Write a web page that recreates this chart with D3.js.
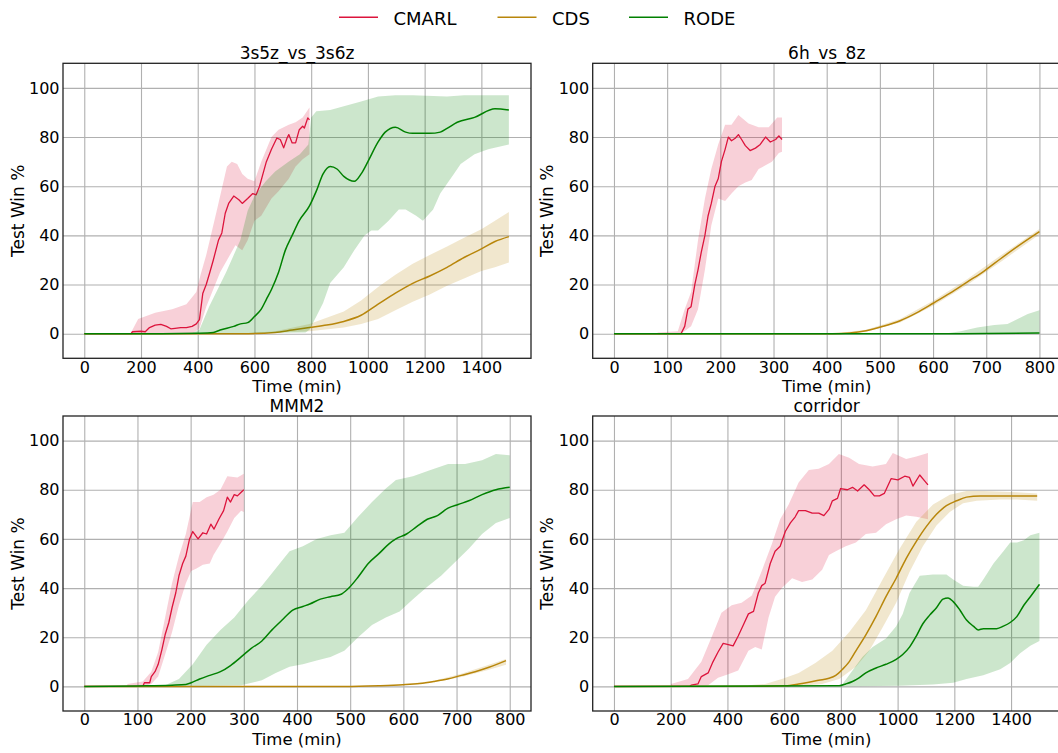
<!DOCTYPE html>
<html>
<head>
<meta charset="utf-8">
<script src="https://d3js.org/d3.v7.min.js"></script>
<style>
body { margin: 0; background: #fff; }
text { font-family: "DejaVu Sans", sans-serif; }
</style>
</head>
<body>
<svg id="chart" width="1058" height="753"></svg>
<script>
// series names and colours
var seriesNames = ["CMARL", "CDS", "RODE"];
var seriesColors = ["#dc143c", "#b8860b", "#008000"];
var panelTitles = ["3s5z_vs_3s6z", "6h_vs_8z", "MMM2", "corridor"];
var panelXMax = [1500, 800, 800, 1500];
var panelXStep = [200, 100, 100, 200];
var yTickValues = [0, 20, 40, 60, 80, 100];

// ---- 3s5z_vs_3s6z ----  [time, value]
var a_cmarl = [[0,0],[165,0],[170,0.8],[200,1],[215,0.8],[230,2.5],[250,3.5],[270,3.8],[290,3],[305,2],[320,2.2],[340,2.5],[360,2.5],[380,3],[395,4],[406,5.7],[418,16.5],[430,20],[442,24.7],[455,30],[473,38],[485,41],[497,49],[509,53],[527,56],[545,54.5],[557,53],[576,55],[594,57],[606,56.5],[618,60],[630,65],[642,70],[660,75],[679,79.6],[691,79],[703,75.6],[715,79.6],[721,81],[733,77.6],[745,77.6],[758,83],[770,84.4],[776,83.7],[788,87.8],[794,87]];
var a_cmarl_hi = [[165,0.5],[190,6],[250,8.5],[310,10],[360,12],[395,17],[410,24],[430,32],[467,50],[503,68],[520,70],[539,69],[557,65],[576,63],[600,62],[624,70],[660,80],[685,83],[721,85],[745,86],[770,88],[794,92]];
var a_cmarl_lo = [[165,0],[380,0],[406,2],[430,11],[479,25],[533,36],[557,34],[576,38],[600,46],[624,48],[660,55],[685,58],[721,63],[745,68],[770,71],[794,73]];
var a_cds = [[0,0],[550,0],[673,0.5],[733,1.5],[794,2.5],[855,3.5],[915,5],[976,7.5],[1036,12],[1097,16.5],[1158,20.5],[1218,23.5],[1279,27],[1339,31],[1400,34.5],[1448,37.5],[1497,39.5]];
var a_cds_hi = [[550,0],[673,1],[794,4],[915,9],[976,13.5],[1036,19],[1097,24],[1158,28.5],[1218,32],[1279,35.5],[1339,39],[1400,42.5],[1448,46],[1497,49.5]];
var a_cds_lo = [[550,0],[794,1],[915,2.5],[976,4],[1036,6],[1097,9.5],[1158,13],[1218,16],[1279,19.5],[1339,22.5],[1400,25.5],[1448,27],[1497,29]];
var a_rode = [[0,0],[273,0],[400,0.2],[455,0.5],[479,1.5],[527,3],[551,4],[576,4.5],[600,7],[624,10],[642,14],[660,18],[685,25],[709,34],[733,40],[758,46],[794,52],[818,58],[842,65],[867,68],[891,67],[915,64],[952,62],[976,65],[1000,70],[1036,78],[1061,82],[1097,84],[1133,82],[1158,81.5],[1218,81.5],[1255,82],[1279,83.5],[1315,86],[1376,88],[1448,91.5],[1497,91]];
var a_rode_hi = [[376,0],[406,1.6],[440,11],[470,18],[500,25],[527,32],[550,38],[576,50],[600,56],[640,62],[673,66],[720,70],[760,73],[790,77],[800,88],[818,90.5],[867,91],[915,92.5],[976,94.5],[1036,96.5],[1097,97],[1158,97],[1279,96.5],[1339,97],[1497,97]];
var a_rode_lo = [[376,0],[780,0.5],[794,1.6],[818,7],[842,12.5],[867,20.6],[915,27],[952,34],[988,40],[1012,42],[1036,42],[1073,46],[1109,50.5],[1133,50.5],[1170,48],[1194,46],[1230,50.5],[1255,57],[1279,61],[1303,65],[1327,69],[1376,73],[1424,75],[1497,77]];

// ---- 6h_vs_8z ----
var b_cmarl = [[0,0],[126,0],[133,3],[139,10],[145,11],[152,20],[158,26],[164,33],[171,40],[177,48],[183,53],[190,60],[196,63],[202,70],[209,75],[215,80],[221,78.5],[228,79.5],[234,81],[240,79],[247,76.5],[256,74.5],[266,75.5],[275,77],[285,80],[294,78],[304,79],[310,80.5],[316,79]];
var b_cmarl_hi = [[82,0.5],[120,1],[133,10],[145,17],[158,38],[171,55],[183,67],[196,77],[209,85],[221,85],[234,89],[253,85.5],[272,84],[291,84],[307,88],[316,88]];
var b_cmarl_lo = [[82,0],[126,0],[145,3],[158,10],[171,26],[183,44],[196,55],[209,54],[221,57],[234,60],[247,61.5],[259,62.5],[272,67],[285,68.5],[297,70],[310,73.5],[316,74]];
var b_cds = [[0,0],[411,0],[443,0.3],[474,1.2],[506,3],[538,5.3],[569,8.5],[601,12.5],[632,16.5],[664,21],[696,25.5],[727,30.5],[759,35.5],[800,41.5]];
var b_cds_hi = [[411,0],[474,1.6],[538,6],[601,13.5],[664,22.2],[727,31.8],[800,42.6]];
var b_cds_lo = [[411,0],[474,0.8],[538,4.6],[601,11.5],[664,19.8],[727,29.2],[800,40.4]];
var b_rode = [[0,0],[620,0],[700,0.1],[800,0.3]];
var b_rode_hi = [[0,0],[620,0],[652,1],[683,2.5],[715,3.5],[740,4],[759,6],[778,8],[800,9.5]];
var b_rode_lo = [[0,0],[800,0]];

// ---- MMM2 ----
var c_cmarl = [[0,0],[110,0],[113,1.5],[123,1.5],[126,4],[133,6],[139,9],[146,15],[152,21],[159,26],[165,32],[172,38],[178,45],[185,50],[191,53],[198,60],[204,63],[214,60],[223,62.5],[230,62],[238,66],[244,64],[253,68],[262,71.5],[269,77],[275,75],[282,78],[288,77.5],[295,79],[300,80]];
var c_cmarl_hi = [[81,1],[110,2],[126,6],[139,14],[152,28],[165,42],[178,53],[191,62],[204,75],[217,75],[230,77],[243,78],[256,80],[269,85.5],[288,85],[300,86.5]];
var c_cmarl_lo = [[81,0],[110,0],[126,1],[139,4],[152,13],[165,22],[178,33],[191,42],[201,47],[211,48],[223,49.5],[236,50],[243,53.5],[256,58],[269,63],[282,68.5],[295,71.5],[300,71]];
var c_cds = [[0,0],[489,0],[554,0.3],[599,0.7],[631,1.2],[657,2],[683,3],[709,4.5],[735,6],[761,7.8],[793,10.5]];
var c_cds_hi = [[489,0],[599,0.8],[657,2.3],[709,5.2],[761,8.8],[793,11.2]];
var c_cds_lo = [[489,0],[599,0.6],[657,1.7],[709,3.8],[761,6.8],[793,8.8]];
var c_rode = [[0,0],[100,0.2],[165,0.5],[191,0.8],[201,1.5],[217,3],[236,4.5],[256,6],[275,8.5],[295,12],[314,15.5],[334,18.5],[353,23],[372,27],[392,31],[411,32.5],[424,33.5],[444,35.5],[463,36.5],[483,37.5],[495,39.5],[515,44.5],[534,50],[554,54],[573,58],[586,60],[606,62],[625,65],[645,68],[664,69.5],[684,72.5],[703,74],[723,75.5],[748,78],[774,80],[800,81]];
var c_rode_hi = [[100,0],[152,0.5],[178,3],[204,9],[230,17],[256,23],[282,28],[308,35],[334,41],[360,48],[386,55],[411,57],[437,60],[463,61.5],[489,62.5],[515,69],[541,75],[567,80.5],[586,84],[618,85.5],[651,88],[684,90.5],[716,90.5],[748,92],[774,94.5],[800,94]];
var c_rode_lo = [[100,0],[295,0.5],[334,2.5],[360,5.5],[386,8],[411,9],[437,10.5],[463,12],[489,14.5],[515,20],[541,25],[567,28],[593,30.5],[618,35.5],[645,40.5],[671,45],[697,50.5],[723,56],[748,62],[774,66.5],[800,68.5]];

// ---- corridor ----
var d_cmarl = [[0,0],[266,0],[272,0.5],[296,1],[308,4],[332,5.5],[349,10],[367,14],[385,17.5],[403,17],[420,16.5],[438,20.5],[456,25],[474,29.5],[492,30.5],[509,38],[521,41],[533,42],[551,50],[568,55],[586,57],[604,63],[622,66.5],[639,69],[651,71.5],[675,71.5],[699,70.5],[722,70.5],[740,69.5],[758,72],[770,75.5],[788,76.5],[799,80.5],[823,80],[841,81],[859,79.5],[882,82],[900,80],[918,77.5],[936,77.5],[953,78.5],[977,84.5],[1001,84],[1025,85.5],[1042,85],[1054,81.5],[1078,86],[1096,83.5],[1107,82]];
var d_cmarl_hi = [[201,1],[261,3],[308,10],[344,20],[379,30],[415,33],[450,34],[486,37],[521,47],[557,58],[586,68],[616,74],[651,83],[687,88],[722,88.5],[758,90.5],[793,94.5],[829,93],[864,90.5],[912,89.5],[959,90.5],[983,95],[1030,92.5],[1066,93.5],[1107,95]];
var d_cmarl_lo = [[201,0],[272,0],[332,0.5],[367,3.5],[403,5],[438,6.5],[474,14.5],[498,16],[521,15],[545,28],[568,36.5],[592,40],[628,44],[663,42.5],[699,43.5],[734,47.5],[758,53.5],[782,55],[817,57],[853,58.5],[888,62],[924,62.5],[959,66],[995,68],[1030,69.5],[1066,69],[1107,68]];
var d_cds = [[0,0],[533,0.1],[604,0.3],[651,1],[687,1.7],[722,2.5],[758,3.3],[782,4.5],[806,7],[829,10],[853,14.5],[888,21],[924,28.5],[959,36.5],[995,44],[1030,52],[1066,59],[1101,65],[1137,70],[1172,73.5],[1208,75.5],[1243,77],[1291,77.5],[1362,77.5],[1421,77.5],[1492,77.5]];
var d_cds_hi = [[474,0.5],[533,1],[592,3],[651,5.5],[710,9.5],[770,14.5],[829,22],[888,31],[947,43.5],[1007,56],[1066,67],[1125,74],[1184,78],[1243,79.5],[1303,79.5],[1421,79],[1492,78.5]];
var d_cds_lo = [[474,0],[651,0.2],[734,1],[794,3],[853,8],[900,14.5],[947,24],[995,34],[1042,46.5],[1089,57],[1137,65.5],[1184,71],[1231,74.5],[1279,75.5],[1362,76],[1421,76],[1492,75.5]];
var d_rode = [[0,0],[794,0.3],[817,1],[841,2],[864,3.5],[888,5.5],[924,7.5],[959,9],[995,11],[1018,13],[1042,16],[1066,20.5],[1089,25.5],[1113,29],[1137,32],[1160,35.5],[1178,36],[1196,34.5],[1220,31],[1243,27],[1267,24.5],[1284,23],[1302,23.5],[1326,23.5],[1349,23.5],[1373,24.5],[1397,26],[1421,28.5],[1445,33],[1468,36.5],[1500,41.5]];
var d_rode_hi = [[794,0],[806,1],[841,6.5],[876,12],[912,16],[959,19.5],[995,24.5],[1018,29.5],[1042,38],[1078,45],[1125,45.5],[1172,45.5],[1196,43.5],[1231,41],[1267,40.5],[1284,40.5],[1302,43.5],[1338,50],[1373,55],[1397,58.5],[1421,58.5],[1445,59.5],[1468,61.5],[1500,62.5]];
var d_rode_lo = [[794,0],[1007,0.3],[1125,0.8],[1196,1.5],[1243,3],[1302,4.5],[1362,7],[1397,9.5],[1432,13.5],[1468,16.5],[1500,18.5]];

var panelData = [
	[[a_cmarl, a_cmarl_lo, a_cmarl_hi], [a_cds, a_cds_lo, a_cds_hi], [a_rode, a_rode_lo, a_rode_hi]],
	[[b_cmarl, b_cmarl_lo, b_cmarl_hi], [b_cds, b_cds_lo, b_cds_hi], [b_rode, b_rode_lo, b_rode_hi]],
	[[c_cmarl, c_cmarl_lo, c_cmarl_hi], [c_cds, c_cds_lo, c_cds_hi], [c_rode, c_rode_lo, c_rode_hi]],
	[[d_cmarl, d_cmarl_lo, d_cmarl_hi], [d_cds, d_cds_lo, d_cds_hi], [d_rode, d_rode_lo, d_rode_hi]]
];

(function()
{
	var svg = d3.select("#chart");
	var W = 468, H = 295;
	var lefts = [63, 592.7, 63, 592.7];
	var tops = [63.3, 63.3, 416, 416];

	svg.append("rect").attr("width", 1058).attr("height", 753).attr("fill", "#fff");

	for (var i = 0; i < 4; i++) drawPanel(i);
	drawLegend();

	function drawPanel(i)
	{
		var left = lefts[i], top = tops[i], xmax = panelXMax[i];
		var x = d3.scaleLinear().domain([-0.05 * xmax, 1.05 * xmax]).range([left, left + W]);
		var y = d3.scaleLinear().domain([-10, 110]).range([top + H, top]);
		var g = svg.append("g");

		var clipId = "clip" + i;
		g.append("clipPath").attr("id", clipId).append("rect")
			.attr("x", left).attr("y", top).attr("width", W).attr("height", H);

		// axes, with the ticks stretched across as grid lines
		var xAxis = d3.axisBottom(x).tickValues(d3.range(0, xmax + 1, panelXStep[i]))
			.tickSize(-H).tickPadding(3).tickFormat(d3.format("d"));
		var yAxis = d3.axisLeft(y).tickValues(yTickValues)
			.tickSize(-W).tickPadding(3.5).tickFormat(d3.format("d"));
		var gx = g.append("g").attr("transform", "translate(0," + (top + H) + ")").call(xAxis);
		var gy = g.append("g").attr("transform", "translate(" + left + ",0)").call(yAxis);
		[gx, gy].forEach(function(ax)
		{
			ax.select(".domain").remove();
			ax.selectAll("line").attr("stroke", "#b0b0b0").attr("stroke-width", 1.1);
			ax.selectAll("text").attr("fill", "#000").style("font-size", "16px")
				.style("font-family", "'DejaVu Sans', sans-serif");
		});

		var plot = g.append("g").attr("clip-path", "url(#" + clipId + ")");
		var line = d3.line().x(function(d) { return x(d[0]); }).y(function(d) { return y(d[1]); });

		// bands first, then mean lines, in legend order
		for (var s = 0; s < 3; s++)
		{
			var sd = panelData[i][s];
			var poly = sd[2].concat(sd[1].slice().reverse());
			plot.append("path").attr("d", line(poly) + "Z")
				.attr("fill", seriesColors[s]).attr("fill-opacity", 0.2).attr("stroke", "none");
			plot.append("path").attr("d", (s == 0 ? line : line.curve(d3.curveMonotoneX))(sd[0]))
				.attr("fill", "none").attr("stroke", seriesColors[s])
				.attr("stroke-width", s == 0 ? 1.3 : 1.5).attr("stroke-linejoin", "round");
			line.curve(d3.curveLinear);
		}

		g.append("rect").attr("x", left).attr("y", top).attr("width", W).attr("height", H)
			.attr("fill", "none").attr("stroke", "#222").attr("stroke-width", 1.3);

		g.append("text").attr("x", left + W / 2).attr("y", top - 4.5).attr("text-anchor", "middle")
			.style("font-size", "17px").text(panelTitles[i]);
		g.append("text").attr("x", left + W / 2).attr("y", top + H + 33.5).attr("text-anchor", "middle")
			.style("font-size", "16.5px").text("Time (min)");
		g.append("text").attr("transform", "translate(" + (left - 39.5) + "," + (top + H / 2) + ") rotate(-90)")
			.attr("text-anchor", "middle").style("font-size", "17px").text("Test Win %");
	}

	function drawLegend()
	{
		var lineX = [339, 497.5, 629];
		var lg = svg.append("g");
		for (var s = 0; s < 3; s++)
		{
			lg.append("line").attr("x1", lineX[s]).attr("x2", lineX[s] + 39)
				.attr("y1", 17.3).attr("y2", 17.3)
				.attr("stroke", seriesColors[s]).attr("stroke-width", 1.5);
			lg.append("text").attr("x", lineX[s] + 54.5).attr("y", 24.5)
				.style("font-size", "18px").text(seriesNames[s]);
		}
	}
})();
</script>
</body>
</html>
